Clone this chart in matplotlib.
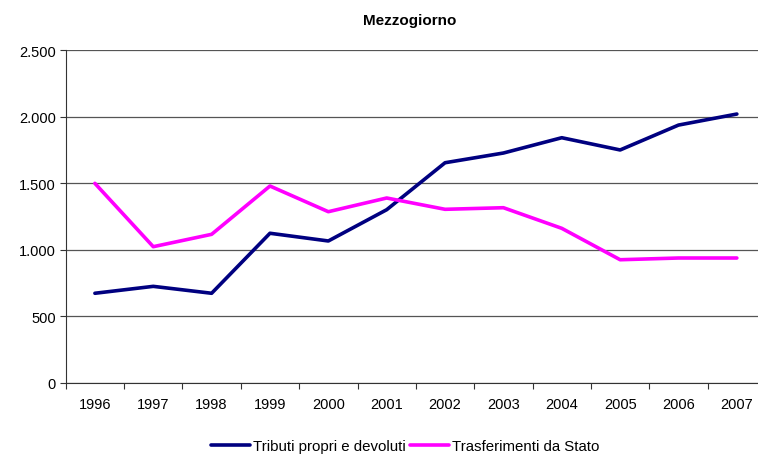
import matplotlib; matplotlib.use('Agg')
import matplotlib.pyplot as plt
import numpy as np

years = ['1996','1997','1998','1999','2000','2001','2002','2003','2004','2005','2006','2007']
tributi = [674, 726, 674, 1125, 1067, 1302, 1655, 1728, 1843, 1751, 1938, 2021]
trasferimenti = [1500, 1024, 1117, 1480, 1287, 1390, 1305, 1317, 1162, 926, 939, 939]
yticks = [0, 500, 1000, 1500, 2000, 2500]
ytick_labels = ['0', '500', '1.000', '1.500', '2.000', '2.500']

plt.rcParams.update({'font.family': ['Liberation Sans', 'DejaVu Sans'], 'font.size': 11})

fig = plt.figure(figsize=(7.58, 4.56), dpi=100)
fig.patch.set_facecolor('white')
ax = fig.add_axes([0.0867, 0.158, 1.0106 - 0.0867, 0.8875 - 0.158])

x = np.arange(len(years))
ax.plot(x, tributi, color='#000080', lw=2.6, label='Tributi propri e devoluti', solid_capstyle='round')
ax.plot(x, trasferimenti, color='#FF00FF', lw=2.6, label='Trasferimenti da Stato', solid_capstyle='round')

ax.set_xlim(-0.5, len(years) - 0.5)
ax.set_ylim(0, 2500)
ax.set_yticks(yticks)
ax.set_yticklabels(ytick_labels)
ax.set_xticks(x)
ax.set_xticklabels(years)
ax.tick_params(axis='both', labelsize=10.5)
ax.tick_params(axis='x', which='major', length=0, pad=10)
ax.set_xticks(np.arange(-0.5, len(years), 1), minor=True)
ax.tick_params(axis='x', which='minor', length=4, width=0.8, color='#333333')
ax.tick_params(axis='y', length=4, width=0.8, color='#333333', pad=3)
ax.grid(axis='y', color='#555555', lw=0.9)
ax.set_axisbelow(True)
for s in ['top', 'right']:
    ax.spines[s].set_visible(False)
ax.spines['left'].set_color('#333333')
ax.spines['bottom'].set_color('#333333')

fig.text(0.54, 0.955, 'Mezzogiorno', ha='center', va='center', fontsize=11, fontweight='bold')
fig.legend(loc='center', bbox_to_anchor=(0.535, 0.02), ncol=2, frameon=False,
           fontsize=10.8, handlelength=2.6, handletextpad=0.2, columnspacing=0.3)

fig.savefig('out.png', dpi=100, facecolor='white')
